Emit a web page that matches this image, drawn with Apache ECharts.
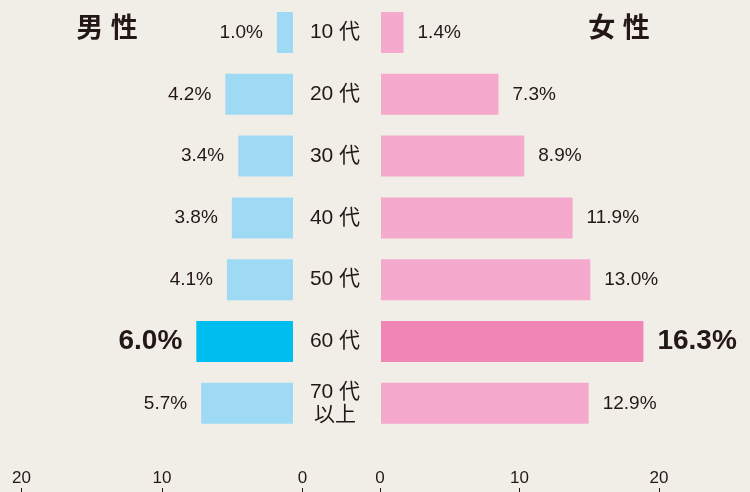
<!DOCTYPE html>
<html>
<head>
<meta charset="utf-8">
<script src="https://cdn.jsdelivr.net/npm/echarts@6/dist/echarts.min.js"></script>
<style>
  html, body { margin: 0; padding: 0; background: #f1eee8; }
  #chart { width: 750px; height: 492px; }
</style>
</head>
<body>
<div id="chart"></div>
<script>
// 年代別の男女比（%）
var ageGroups = ['10 代', '20 代', '30 代', '40 代', '50 代', '60 代', '70 代\n以上']
var maleValues = [1.0, 4.2, 3.4, 3.8, 4.1, 6.0, 5.7]
var femaleValues = [1.4, 7.3, 8.9, 11.9, 13.0, 16.3, 12.9]
var highlightIndex = 5
var scaleTicks = [0, 10, 20]

var font = '"Liberation Sans", "Noto Sans CJK JP", sans-serif'
var textColor = '#231815'

function buildData (values, strong) {
  return values.map(function (v, i) {
    if (i !== highlightIndex) return v
    return {
      value: v,
      itemStyle: { color: strong },
      label: { fontSize: 28, fontWeight: 'bold' }
    }
  })
}

var chart = echarts.init(document.getElementById('chart'))
chart.setOption({
  backgroundColor: '#f1eee8',
  animation: false,
  textStyle: { fontFamily: font, color: textColor },
  title: [
    { text: '男 性', left: 102, top: 11, textAlign: 'center',
      textStyle: { fontSize: 27, fontWeight: 'bold', color: textColor, fontFamily: font } },
    { text: '女 性', left: 614, top: 11, textAlign: 'center',
      textStyle: { fontSize: 27, fontWeight: 'bold', color: textColor, fontFamily: font } }
  ],
  grid: [
    // bars
    { left: 3, width: 290, top: 1.6, bottom: 57.8 },
    { left: 381, width: 322, top: 1.6, bottom: 57.8 },
    // bottom scales
    { left: 21.5, width: 281, top: 488, bottom: 0 },
    { left: 380, width: 279, top: 488, bottom: 0 }
  ],
  xAxis: [
    { gridIndex: 0, type: 'value', inverse: true, min: 0, max: 18, show: false },
    { gridIndex: 1, type: 'value', min: 0, max: 20, show: false },
    { gridIndex: 2, type: 'value', inverse: true, min: 0, max: 20, interval: 10, position: 'top',
      axisLine: { show: false }, splitLine: { show: false },
      axisTick: { show: true, inside: true, length: 6, lineStyle: { color: textColor, width: 1 } },
      axisLabel: { margin: 1, fontSize: 17, color: textColor, fontFamily: font,
        customValues: scaleTicks } },
    { gridIndex: 3, type: 'value', min: 0, max: 20, interval: 10, position: 'top',
      axisLine: { show: false }, splitLine: { show: false },
      axisTick: { show: true, inside: true, length: 6, lineStyle: { color: textColor, width: 1 } },
      axisLabel: { margin: 1, fontSize: 17, color: textColor, fontFamily: font,
        customValues: scaleTicks } }
  ],
  yAxis: [
    { gridIndex: 0, type: 'category', inverse: true, data: ageGroups, show: false },
    { gridIndex: 1, type: 'category', inverse: true, data: ageGroups,
      axisLine: { show: false }, axisTick: { show: false },
      axisLabel: { margin: 46, align: 'center', fontSize: 21, lineHeight: 23,
        padding: [4, 0, 0, 0], color: textColor, fontFamily: font } },
    { gridIndex: 2, type: 'category', data: ['x'], show: false },
    { gridIndex: 3, type: 'category', data: ['x'], show: false }
  ],
  series: [
    {
      name: '男性',
      type: 'bar',
      xAxisIndex: 0,
      yAxisIndex: 0,
      barWidth: 41,
      itemStyle: { color: '#9fdaf5' },
      label: {
        show: true, position: 'left', distance: 14, fontSize: 19,
        color: textColor, fontFamily: font,
        formatter: function (p) { return p.value.toFixed(1) + '%' }
      },
      data: buildData(maleValues, '#00bdf0')
    },
    {
      name: '女性',
      type: 'bar',
      xAxisIndex: 1,
      yAxisIndex: 1,
      barWidth: 41,
      itemStyle: { color: '#f5a9cc' },
      label: {
        show: true, position: 'right', distance: 14, fontSize: 19,
        color: textColor, fontFamily: font,
        formatter: function (p) { return p.value.toFixed(1) + '%' }
      },
      data: buildData(femaleValues, '#f086b5')
    }
  ]
})
</script>
</body>
</html>
